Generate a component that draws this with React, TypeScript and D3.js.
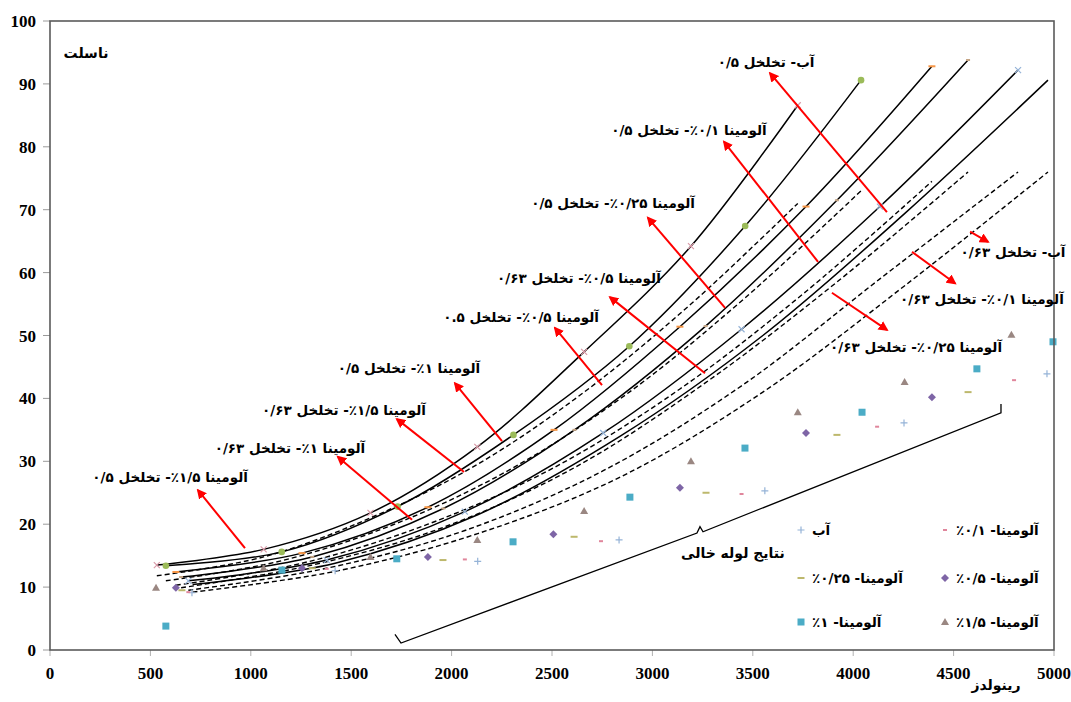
import React from 'react';
import * as d3 from 'd3';

const W = 1071;
const H = 702;
const PLOT = { left: 50, right: 1054, top: 21, bottom: 650 };

const xTicks = [0, 500, 1000, 1500, 2000, 2500, 3000, 3500, 4000, 4500, 5000];
const yTicks = [0, 10, 20, 30, 40, 50, 60, 70, 80, 90, 100];

// Reynolds numbers of each fluid
const reWater = [710, 1420, 2130, 2840, 3550, 4260, 4970];
const reAl01 = [689, 1378, 2066, 2755, 3444, 4133, 4821];
const reAl025 = [653, 1306, 1959, 2612, 3265, 3919, 4572];
const reAl05 = [627, 1255, 1882, 2510, 3137, 3765, 4392];
const reAl1 = [577, 1154, 1731, 2308, 2885, 3462, 4039];
const reAl15 = [532, 1064, 1596, 2128, 2660, 3192, 3724];

// Nusselt, porosity 0.5 (solid curves)
const nuAl15P05 = [13.5, 16.0, 21.8, 32.3, 47.4, 64.2, 86.6];
const nuAl1P05 = [13.4, 15.6, 22.8, 34.2, 48.3, 67.4, 90.6];
const nuAl05P05 = [12.4, 15.4, 22.7, 35.0, 51.4, 70.5, 92.8];
const nuAl025P05 = [11.6, 14.8, 22.5, 35.0, 51.5, 71.5, 93.8];
const nuAl01P05 = [11.0, 14.3, 22.0, 34.5, 51.0, 70.5, 92.2];
const nuWaterP05 = [10.4, 13.8, 21.5, 34.0, 50.0, 69.5, 90.6];

// Nusselt, porosity 0.63 (dashed curves)
const nuAl15P063 = [11.8, 14.8, 21.0, 29.5, 41.0, 55.0, 71.0];
const nuAl1P063 = [11.0, 14.2, 20.2, 29.0, 41.0, 56.0, 73.0];
const nuAl05P063 = [10.3, 13.8, 20.0, 29.0, 41.5, 57.0, 74.5];
const nuAl025P063 = [9.9, 13.5, 19.5, 29.0, 42.5, 58.5, 76.0];
const nuAl01P063 = [9.5, 13.0, 19.0, 28.5, 42.0, 59.0, 76.0];
const nuWaterP063 = [9.2, 12.5, 18.5, 27.5, 41.0, 58.0, 76.0];

// Empty tube results
const emptyWaterRe = [707, 1420, 2130, 2834, 3560, 4253, 4965];
const emptyWaterNu = [9.1, 12.6, 14.1, 17.5, 25.3, 36.1, 43.9];
const emptyAl01Re = [689, 1378, 2066, 2744, 3444, 4119, 4801];
const emptyAl01Nu = [9.2, 12.9, 14.4, 17.3, 24.8, 35.5, 42.9];
const emptyAl025Re = [657, 1306, 1957, 2610, 3267, 3919, 4572];
const emptyAl025Nu = [9.5, 13.0, 14.3, 18.0, 25.0, 34.2, 41.0];
const emptyAl05Re = [627, 1255, 1882, 2507, 3137, 3765, 4392];
const emptyAl05Nu = [9.9, 13.0, 14.8, 18.4, 25.8, 34.5, 40.2];
const emptyAl1Re = [577, 1155, 1727, 2306, 2888, 3461, 4044, 4616, 4995];
const emptyAl1Nu = [3.8, 12.7, 14.5, 17.2, 24.3, 32.1, 37.8, 44.7, 49.0];
const emptyAl15Re = [528, 1064, 1596, 2128, 2660, 3192, 3724, 4256, 4788];
const emptyAl15Nu = [9.9, 13.0, 14.8, 17.5, 22.1, 30.0, 37.8, 42.6, 50.1];

// Annotation labels: text, label centre (Re, Nu), arrow start (Re, Nu), arrow head (Re, Nu)
const labelTexts = [
  'آب- تخلخل ۰/۵',
  'آلومینا ۰/۱٪- تخلخل ۰/۵',
  'آلومینا ۰/۲۵٪- تخلخل ۰/۵',
  'آلومینا ۰/۵٪- تخلخل ۰/۶۳',
  'آلومینا ۰/۵٪- تخلخل ۰.۵',
  'آلومینا ۱٪- تخلخل ۰/۵',
  'آلومینا ۱/۵٪- تخلخل ۰/۶۳',
  'آلومینا ۱٪- تخلخل ۰/۶۳',
  'آلومینا ۱/۵٪- تخلخل ۰/۵',
  'آب- تخلخل ۰/۶۳',
  'آلومینا ۰/۱٪- تخلخل ۰/۶۳',
  'آلومینا ۰/۲۵٪- تخلخل ۰/۶۳',
];
const labelPos = [
  [3566, 93.5], [3182, 82.7], [2804, 71.1], [2634, 59.1], [2346, 52.9], [1788, 44.8],
  [1464, 38.2], [1195, 32.1], [598, 27.5], [4796, 63.3], [4641, 55.8], [4313, 48.2],
];
const arrowStart = [
  [4168, 69.6], [3825, 61.7], [3362, 54.4], [3262, 44.0], [2749, 42.1], [2251, 33.2],
  [2062, 28.3], [1803, 20.7], [971, 16.2], [4582, 66.5], [4293, 63.3], [3894, 56.8],
];
const arrowHead = [
  [3586, 91.7], [3357, 80.8], [2978, 68.7], [2789, 56.1], [2515, 51.2], [2017, 42.4],
  [1728, 36.7], [1434, 30.7], [737, 25.4], [4671, 64.9], [4507, 58.3], [4168, 50.9],
];

// bracket for empty-tube results (Re, Nu)
const bracePts = [
  [1718, 2.5], [1748, 1.1], [3222, 18.6], [3237, 19.6], [3252, 18.8], [4736, 37.7], [4736, 39.1],
];
const braceText = 'نتایج لوله خالی';
const braceTextPos = [3401, 15.4];

const legendNames = ['آب', 'آلومینا- ۰/۱٪', 'آلومینا- ۰/۲۵٪', 'آلومینا- ۰/۵٪', 'آلومینا- ۱٪', 'آلومینا- ۱/۵٪'];

const FA = "'DejaVu Sans', 'Noto Sans', sans-serif";
const NUMF = "'Liberation Serif', 'Times New Roman', serif";

const x = d3.scaleLinear().domain([0, 5000]).range([PLOT.left, PLOT.right]);
const y = d3.scaleLinear().domain([0, 100]).range([PLOT.bottom, PLOT.top]);

const lineGen = d3
  .line<[number, number]>()
  .x((d) => x(d[0]))
  .y((d) => y(d[1]))
  .curve(d3.curveCatmullRom.alpha(0.5));

function zip(a: number[], b: number[]): [number, number][] {
  return a.map((v, i) => [v, b[i]] as [number, number]);
}

function Marker({ type, cx, cy, color }: { type: string; cx: number; cy: number; color: string }) {
  const s = 3.5;
  switch (type) {
    case 'plus':
      return <path d={`M${cx - s},${cy}H${cx + s}M${cx},${cy - s}V${cy + s}`} stroke={color} strokeWidth={1.2} fill="none" />;
    case 'x':
      return <path d={`M${cx - 3},${cy - 3}L${cx + 3},${cy + 3}M${cx - 3},${cy + 3}L${cx + 3},${cy - 3}`} stroke={color} strokeWidth={1.2} fill="none" />;
    case 'dash':
      return <path d={`M${cx - 3.5},${cy}H${cx + 3.5}`} stroke={color} strokeWidth={2} />;
    case 'smalldash':
      return <path d={`M${cx - 2},${cy}H${cx + 2}`} stroke={color} strokeWidth={2} />;
    case 'diamond':
      return <path d={`M${cx},${cy - 4}L${cx + 4},${cy}L${cx},${cy + 4}L${cx - 4},${cy}Z`} fill={color} />;
    case 'square':
      return <rect x={cx - 3.5} y={cy - 3.5} width={7} height={7} fill={color} />;
    case 'triangle':
      return <path d={`M${cx},${cy - 4}L${cx + 4},${cy + 3}L${cx - 4},${cy + 3}Z`} fill={color} />;
    case 'circle':
      return <circle cx={cx} cy={cy} r={3.3} fill={color} />;
    default:
      return null;
  }
}

const solidCurves = [
  { re: reAl15, nu: nuAl15P05, marker: 'x', color: '#d99aa8' },
  { re: reAl1, nu: nuAl1P05, marker: 'circle', color: '#9bbb59' },
  { re: reAl05, nu: nuAl05P05, marker: 'dash', color: '#f79646' },
  { re: reAl025, nu: nuAl025P05, marker: 'smalldash', color: '#c4a484' },
  { re: reAl01, nu: nuAl01P05, marker: 'x', color: '#95b3d7' },
  { re: reWater, nu: nuWaterP05, marker: 'none', color: '#000' },
];
const dashedCurves = [
  { re: reAl15, nu: nuAl15P063 },
  { re: reAl1, nu: nuAl1P063 },
  { re: reAl05, nu: nuAl05P063 },
  { re: reAl025, nu: nuAl025P063 },
  { re: reAl01, nu: nuAl01P063 },
  { re: reWater, nu: nuWaterP063 },
];

const emptySeries = [
  { re: emptyWaterRe, nu: emptyWaterNu, marker: 'plus', color: '#95b3d7' },
  { re: emptyAl01Re, nu: emptyAl01Nu, marker: 'smalldash', color: '#e0869c' },
  { re: emptyAl025Re, nu: emptyAl025Nu, marker: 'dash', color: '#bdb86c' },
  { re: emptyAl05Re, nu: emptyAl05Nu, marker: 'diamond', color: '#7e65a6' },
  { re: emptyAl1Re, nu: emptyAl1Nu, marker: 'square', color: '#4bacc6' },
  { re: emptyAl15Re, nu: emptyAl15Nu, marker: 'triangle', color: '#9a8782' },
];

// legend layout: [series index, marker x, text left x, row y]
const legendLayout = [
  [0, 801, 812, 530],
  [1, 945, 956, 530],
  [2, 801, 812, 578],
  [3, 945, 956, 578],
  [4, 801, 812, 622],
  [5, 945, 956, 622],
];

export default function App() {
  const bracePath = d3
    .line<number[]>()
    .x((d) => x(d[0]))
    .y((d) => y(d[1]))(bracePts);

  return (
    <svg width={W} height={H} style={{ position: 'absolute', left: 0, top: 0, background: '#fff' }}>
      <defs>
        <marker id="ah" viewBox="0 0 10 10" refX="8" refY="5" markerWidth="5" markerHeight="5" orient="auto-start-reverse" markerUnits="strokeWidth">
          <path d="M0,0L10,5L0,10Z" fill="#ff0000" />
        </marker>
        <clipPath id="plotclip">
          <rect x={PLOT.left} y={PLOT.top - 30} width={PLOT.right - PLOT.left + 6} height={PLOT.bottom - PLOT.top + 30} />
        </clipPath>
      </defs>
      <rect x={0} y={0} width={W} height={H} fill="#fff" />

      {/* axis ticks */}
      {yTicks.map((t) => (
        <g key={'y' + t}>
          <line x1={PLOT.left - 7} x2={PLOT.left} y1={y(t)} y2={y(t)} stroke="#9a9a9a" strokeWidth={1} />
          <text x={36} y={y(t) + 6} textAnchor="end" fontFamily={NUMF} fontWeight="bold" fontSize={17} fill="#000">
            {t}
          </text>
        </g>
      ))}
      {xTicks.map((t) => (
        <g key={'x' + t}>
          <line x1={x(t)} x2={x(t)} y1={PLOT.bottom} y2={PLOT.bottom + 6} stroke="#b0b0b0" strokeWidth={1} />
          <text x={x(t)} y={679} textAnchor="middle" fontFamily={NUMF} fontWeight="bold" fontSize={17} fill="#000">
            {t}
          </text>
        </g>
      ))}

      {/* curves */}
      <g clipPath="url(#plotclip)">
        {dashedCurves.map((c, i) => (
          <path key={'d' + i} d={lineGen(zip(c.re, c.nu)) || ''} fill="none" stroke="#000" strokeWidth={1.4} strokeDasharray="5,3" />
        ))}
        {solidCurves.map((c, i) => (
          <path key={'s' + i} d={lineGen(zip(c.re, c.nu)) || ''} fill="none" stroke="#000" strokeWidth={1.5} />
        ))}
        {solidCurves.map((c, i) =>
          c.re.map((r, j) => <Marker key={'sm' + i + '_' + j} type={c.marker} cx={x(r)} cy={y(c.nu[j])} color={c.color} />)
        )}
        {emptySeries.map((s, i) =>
          s.re.map((r, j) => <Marker key={'em' + i + '_' + j} type={s.marker} cx={x(r)} cy={y(s.nu[j])} color={s.color} />)
        )}
      </g>

      {/* plot frame */}
      <rect x={PLOT.left} y={PLOT.top} width={PLOT.right - PLOT.left} height={PLOT.bottom - PLOT.top} fill="none" stroke="#5a5a5a" strokeWidth={1.6} />

      {/* arrows */}
      {arrowStart.map((s, i) => (
        <line
          key={'a' + i}
          x1={x(s[0])}
          y1={y(s[1])}
          x2={x(arrowHead[i][0])}
          y2={y(arrowHead[i][1])}
          stroke="#ff0000"
          strokeWidth={2}
          markerEnd="url(#ah)"
        />
      ))}

      {/* labels */}
      {labelTexts.map((t, i) => (
        <text
          key={'l' + i}
          x={x(labelPos[i][0])}
          y={y(labelPos[i][1]) + 5}
          textAnchor="middle"
          direction="rtl"
          style={{ direction: 'rtl', unicodeBidi: 'embed' } as any}
          fontFamily={FA}
          fontWeight="bold"
          fontSize={13.5}
          fill="#000"
        >
          {t}
        </text>
      ))}

      {/* bracket */}
      <path d={bracePath || ''} fill="none" stroke="#000" strokeWidth={1.3} />
      <text x={x(braceTextPos[0])} y={y(braceTextPos[1]) + 5} textAnchor="middle" fontFamily={FA} fontWeight="bold" fontSize={14} fill="#000">
        {braceText}
      </text>

      {/* legend */}
      {legendLayout.map(([si, mx, tx, ry]) => {
        const s = emptySeries[si];
        return (
          <g key={'lg' + si}>
            <Marker type={s.marker} cx={mx} cy={ry} color={s.color} />
            <text
              x={tx}
              y={ry + 5}
              textAnchor="end"
              direction="rtl"
              style={{ direction: 'rtl', unicodeBidi: 'embed' } as any}
              fontFamily={FA}
              fontWeight="bold"
              fontSize={13.5}
              fill="#000"
            >
              {legendNames[si]}
            </text>
          </g>
        );
      })}

      {/* axis titles */}
      <text x={86} y={58} textAnchor="middle" fontFamily={FA} fontWeight="bold" fontSize={14} fill="#000">
        ناسلت
      </text>
      <text x={996} y={690} textAnchor="middle" fontFamily={FA} fontWeight="bold" fontSize={14} fill="#000">
        رینولدز
      </text>
    </svg>
  );
}
